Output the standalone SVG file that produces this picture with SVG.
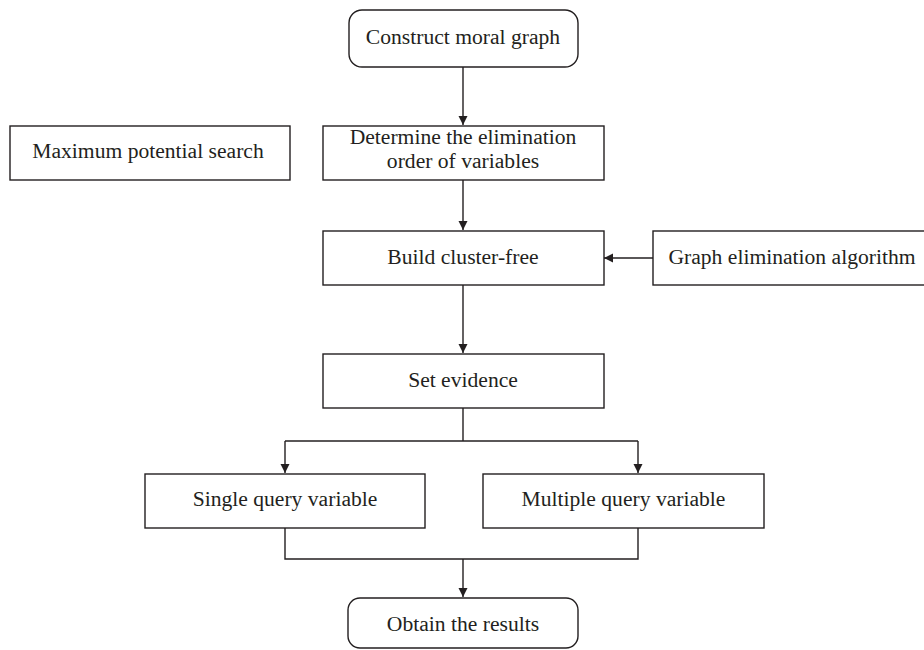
<svg xmlns="http://www.w3.org/2000/svg" width="924" height="650" viewBox="0 0 924 650">
  <defs>
    <marker id="arr" markerWidth="10" markerHeight="10" refX="9" refY="5" orient="auto" markerUnits="userSpaceOnUse">
      <path d="M0,0.5 L9,5 L0,9.5 Z" fill="#231f20"/>
    </marker>
  </defs>
  <style>
    .box { fill: #ffffff; stroke: #231f20; stroke-width: 1.4; }
    .lbl { font-family: "Liberation Serif", "Times New Roman", serif; font-size: 21.6px; fill: #231f20; text-anchor: middle; }
    .edge { fill: none; stroke: #231f20; stroke-width: 1.4; }
  </style>
  <rect width="924" height="650" fill="#ffffff"/>

  <g id="connectors">
    <path class="edge" d="M463,67 V125" marker-end="url(#arr)"/>
    <path class="edge" d="M463,180 V230" marker-end="url(#arr)"/>
    <path class="edge" d="M653,258 H604" marker-end="url(#arr)"/>
    <path class="edge" d="M463,285 V353" marker-end="url(#arr)"/>
    <path class="edge" d="M463,408 V441"/>
    <path class="edge" d="M285,441 H638"/>
    <path class="edge" d="M285,441 V473" marker-end="url(#arr)"/>
    <path class="edge" d="M638,441 V473" marker-end="url(#arr)"/>
    <path class="edge" d="M285,528 V559 H638 V528"/>
    <path class="edge" d="M463,559 V597" marker-end="url(#arr)"/>
  </g>

  <g id="construct">
    <rect class="box" x="349" y="10" width="229" height="57" rx="13"/>
    <text class="lbl" x="463" y="44">Construct moral graph</text>
  </g>
  <g id="maxsearch">
    <rect class="box" x="10" y="126" width="280" height="54"/>
    <text class="lbl" x="148" y="158">Maximum potential search</text>
  </g>
  <g id="determine">
    <rect class="box" x="323" y="126" width="281" height="54"/>
    <text class="lbl" x="463" y="144">Determine the elimination</text>
    <text class="lbl" x="463" y="168">order of variables</text>
  </g>
  <g id="build">
    <rect class="box" x="323" y="231" width="281" height="54"/>
    <text class="lbl" x="463" y="264">Build cluster-free</text>
  </g>
  <g id="graphelim">
    <rect class="box" x="653" y="231" width="280" height="54"/>
    <text class="lbl" x="792" y="264">Graph elimination algorithm</text>
  </g>
  <g id="evidence">
    <rect class="box" x="323" y="354" width="281" height="54"/>
    <text class="lbl" x="463" y="387">Set evidence</text>
  </g>
  <g id="single">
    <rect class="box" x="145" y="474" width="280" height="54"/>
    <text class="lbl" x="285" y="506">Single query variable</text>
  </g>
  <g id="multiple">
    <rect class="box" x="483" y="474" width="281" height="54"/>
    <text class="lbl" x="623.5" y="506">Multiple query variable</text>
  </g>
  <g id="results">
    <rect class="box" x="348" y="598" width="230" height="50" rx="12"/>
    <text class="lbl" x="463" y="631">Obtain the results</text>
  </g>
</svg>
